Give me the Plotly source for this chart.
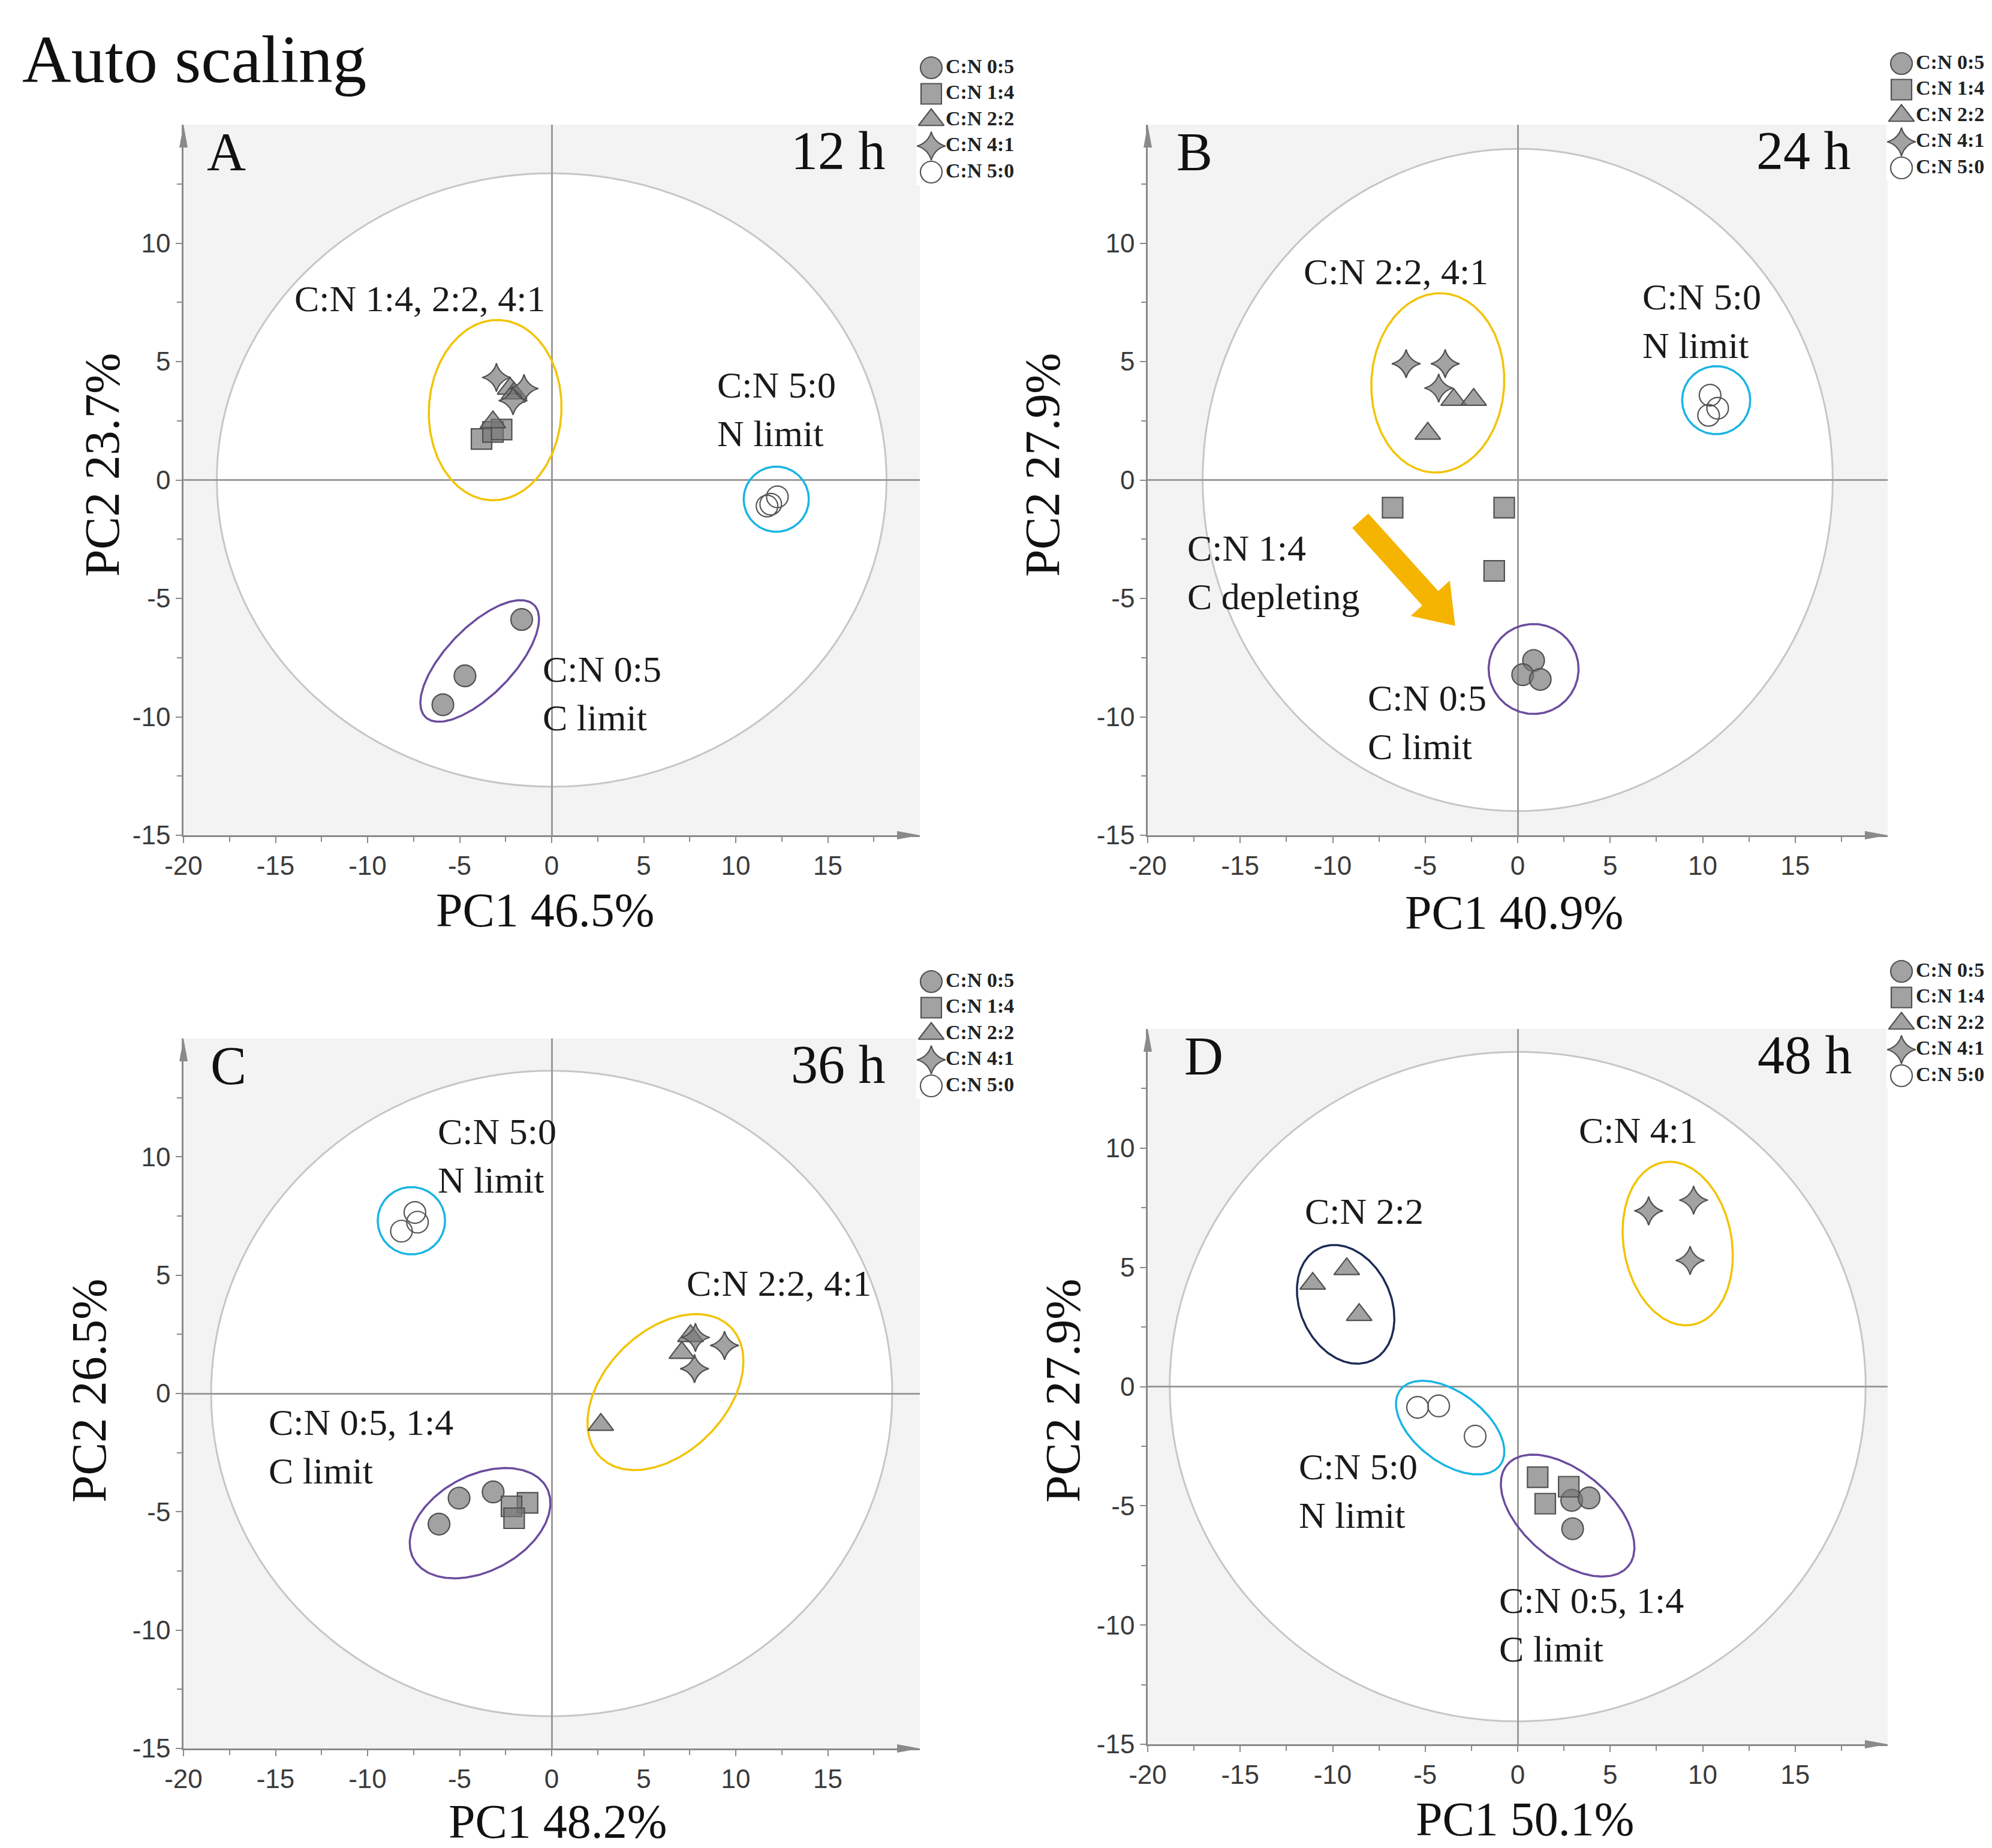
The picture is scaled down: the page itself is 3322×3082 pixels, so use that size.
import numpy as np
import plotly.graph_objects as go

W, H = 3322, 3082

# ---------------- data ----------------
categories = ["C:N 0:5", "C:N 1:4", "C:N 2:2", "C:N 4:1", "C:N 5:0"]
panel_letters = ["A", "B", "C", "D"]
time_labels = ["12 h", "24 h", "36 h", "48 h"]
pc1_titles = ["PC1 46.5%", "PC1 40.9%", "PC1 48.2%", "PC1 50.1%"]
pc2_titles = ["PC2 23.7%", "PC2 27.9%", "PC2 26.5%", "PC2 27.9%"]
x_tick_vals = [-20, -15, -10, -5, 0, 5, 10, 15]
y_tick_vals = [-15, -10, -5, 0, 5, 10]
x_minor_vals = [-17.5, -12.5, -7.5, -2.5, 2.5, 7.5, 12.5, 17.5]
y_minor_vals = [-12.5, -7.5, -2.5, 2.5, 7.5, 12.5]

sample_group = ["C:N 0:5", "C:N 0:5", "C:N 0:5",
                "C:N 1:4", "C:N 1:4", "C:N 1:4",
                "C:N 2:2", "C:N 2:2", "C:N 2:2",
                "C:N 4:1", "C:N 4:1", "C:N 4:1",
                "C:N 5:0", "C:N 5:0", "C:N 5:0"]

pc1_12h = [-1.63, -4.71, -5.91, -3.81, -3.19, -2.72, -3.19, -2.26, -2.04, -3.00, -1.50, -2.10, 12.26, 11.90, 11.70]
pc2_12h = [-5.89, -8.27, -9.49, 1.73, 2.03, 2.13, 2.44, 3.86, 3.66, 4.33, 3.86, 3.35, -0.71, -1.02, -1.10]

pc1_24h = [0.86, 0.27, 1.22, -6.76, -0.73, -1.27, -3.46, -2.38, -4.86, -6.03, -3.92, -4.27, 10.40, 10.81, 10.32]
pc2_24h = [-7.62, -8.22, -8.42, -1.17, -1.17, -3.84, 3.39, 3.39, 1.96, 4.91, 4.91, 3.88, 3.58, 3.03, 2.73]

pc1_36h = [-6.12, -5.03, -3.18, -1.31, -2.18, -2.04, 7.54, 7.07, 2.67, 7.81, 9.39, 7.76, -7.43, -7.29, -8.16]
pc2_36h = [-5.52, -4.42, -4.16, -4.62, -4.77, -5.27, 2.43, 1.72, -1.32, 2.37, 2.03, 1.05, 7.65, 7.24, 6.86]

pc1_48h = [2.92, 3.86, 2.97, 1.08, 2.76, 1.49, -11.08, -9.24, -8.57, 7.08, 9.51, 9.32, -5.41, -4.27, -2.30]
pc2_48h = [-4.77, -4.67, -5.96, -3.80, -4.20, -4.91, 4.32, 4.93, 3.01, 7.37, 7.82, 5.29, -0.87, -0.81, -2.08]

# Hotelling T2 ellipse semi-axes (PC1, PC2) per panel
t2_semi_pc1 = [18.19, 17.03, 18.50, 18.81]
t2_semi_pc2 = [12.95, 13.98, 13.64, 14.04]

panels_pc1 = [pc1_12h, pc1_24h, pc1_36h, pc1_48h]
panels_pc2 = [pc2_12h, pc2_24h, pc2_36h, pc2_48h]

# ---------------- styles / layout geometry ----------------
YEL, CYA, PUR, NAV = "#f2c300", "#19b4e3", "#6b4c9e", "#1d2b55"
SERIF = "Liberation Serif"
SANS = "Liberation Sans"
AXC = "#8a8a8a"

# plot areas in pixels (x0, x1, ytop, ybottom)
panel_px = [(298, 1526, 200, 1385), (1906, 3140, 200, 1385),
            (298, 1526, 1724, 2908), (1906, 3140, 1708, 2901)]
legend_px = [(1545, 105), (3163, 98), (1545, 1629), (3163, 1612)]
legend_step = 43.5
pc1_title_px = [(901, 1510), (2517, 1514), (922, 3030), (2535, 3026)]
pc2_title_px = [(162, 767), (1730, 767), (140, 2311), (1764, 2311)]

sym = {"C:N 0:5": "circle", "C:N 1:4": "square", "C:N 2:2": "triangle-up",
       "C:N 4:1": "star-diamond", "C:N 5:0": "circle-open"}
msize = {"C:N 0:5": 36, "C:N 1:4": 34, "C:N 2:2": 37, "C:N 4:1": 34, "C:N 5:0": 36}

# group ellipses (cx, cy, a, b, angle_deg, colour); a,b in PC1 units on screen
group_ellipses = [
    [(-3.07, 2.95, 4.9, 3.6, 87, YEL), (-3.91, -7.64, 4.24, 1.82, 46, PUR), (12.2, -0.81, 1.77, 1.77, 0, CYA)],
    [(-4.32, 4.10, 4.85, 3.59, 87, YEL), (10.73, 3.37, 1.84, 1.84, 0, CYA), (0.86, -7.98, 2.43, 2.43, 0, PUR)],
    [(-7.62, 7.30, 1.83, 1.83, 0, CYA), (6.18, 0.06, 5.0, 3.3, 45, YEL), (-3.89, -5.48, 4.1, 2.6, 28, PUR)],
    [(-9.30, 3.45, 3.35, 2.45, 115, NAV), (-3.65, -1.72, 3.38, 1.89, -37, CYA),
     (2.70, -5.41, 4.27, 2.38, -40, PUR), (8.65, 6.0, 4.46, 2.92, 100, YEL)],
]

# text labels (text, x, y, xanchor)
panel_notes = [
    [("C:N 1:4, 2:2, 4:1", -7.14, 7.66, "center"), ("C:N 5:0<br>N limit", 8.91, 3.0, "left"),
     ("C:N 0:5<br>C limit", -0.54, -9.0, "left")],
    [("C:N 2:2, 4:1", -6.57, 8.79, "center"), ("C:N 5:0<br>N limit", 6.68, 6.71, "left"),
     ("C:N 1:4<br>C depleting", -17.92, -3.91, "left"), ("C:N 0:5<br>C limit", -8.16, -10.23, "left")],
    [("C:N 5:0<br>N limit", -6.26, 10.04, "left"), ("C:N 2:2, 4:1", 7.27, 4.67, "left"),
     ("C:N 0:5, 1:4<br>C limit", -15.43, -2.23, "left")],
    [("C:N 4:1", 3.24, 10.75, "left"), ("C:N 2:2", -11.57, 7.35, "left"),
     ("C:N 5:0<br>N limit", -11.89, -4.38, "left"), ("C:N 0:5, 1:4<br>C limit", -1.08, -9.98, "left")],
]
letter_pos = [(-18.8, 13.85), (-18.5, 13.85), (-18.6, 13.85), (-18.1, 13.85)]
time_pos = [(18.2, 13.9), (18.1, 13.9), (18.2, 13.9), (18.16, 13.9)]

# orange arrow in panel B (tail, tip) in data units
arrow_tail = (-8.51, -1.72)
arrow_tip = (-3.38, -6.16)

fig = go.Figure()
shapes = []
annotations = []
layout = dict(width=W, height=H, margin=dict(l=0, r=0, t=0, b=0, autoexpand=False),
              paper_bgcolor="white", plot_bgcolor="white", showlegend=False)


def ellipse_xy(cx, cy, a, b, th, k):
    t = np.linspace(0, 2 * np.pi, 240)
    c, s = np.cos(np.radians(th)), np.sin(np.radians(th))
    x = cx + a * np.cos(t) * c - b * np.sin(t) * s
    y = cy + (a * np.cos(t) * s + b * np.sin(t) * c) / k
    return x, y


def marker_style(cat):
    if cat == "C:N 5:0":
        return dict(symbol=sym[cat], size=msize[cat], color="#555555", line=dict(width=2.2, color="#555555"))
    return dict(symbol=sym[cat], size=msize[cat], color="rgba(118,118,118,0.68)",
                line=dict(width=2.2, color="#505050"))


for i in range(4):
    n = "" if i == 0 else str(i + 1)
    xr, yr = "x" + n, "y" + n
    x0, x1, yt, yb = panel_px[i]
    px_x = (x1 - x0) / 40.0
    px_y = (yb - yt) / 30.0
    k = px_y / px_x

    common = dict(showline=True, linecolor=AXC, linewidth=2.5, ticks="outside", ticklen=10,
                  tickwidth=2, tickcolor=AXC, showgrid=False, zeroline=True,
                  zerolinecolor="#9a9a9a", zerolinewidth=2.5, automargin=False,
                  tickfont=dict(family=SANS, size=44, color="#3a3a3a"), fixedrange=True)
    layout["xaxis" + n] = dict(common, domain=[x0 / W, x1 / W], range=[-20, 20], anchor=yr,
                               tickmode="array", tickvals=x_tick_vals, ticktext=[str(v) for v in x_tick_vals],
                               minor=dict(tickmode="array", tickvals=x_minor_vals, ticks="outside",
                                          ticklen=8, tickwidth=2, tickcolor=AXC))
    layout["yaxis" + n] = dict(common, domain=[1 - yb / H, 1 - yt / H], range=[-15, 15], anchor=xr,
                               tickmode="array", tickvals=y_tick_vals, ticktext=[str(v) for v in y_tick_vals],
                               minor=dict(tickmode="array", tickvals=y_minor_vals, ticks="outside",
                                          ticklen=8, tickwidth=2, tickcolor=AXC))

    # grey plot background + white T2 ellipse
    shapes.append(dict(type="rect", xref="paper", yref="paper", x0=x0 / W, x1=x1 / W,
                       y0=1 - yb / H, y1=1 - yt / H, fillcolor="#f3f3f3", line=dict(width=0), layer="below"))
    shapes.append(dict(type="circle", xref=xr, yref=yr, x0=-t2_semi_pc1[i], x1=t2_semi_pc1[i],
                       y0=-t2_semi_pc2[i], y1=t2_semi_pc2[i], fillcolor="white",
                       line=dict(color="#c6c6c6", width=3), layer="below"))

    # axis arrowheads (paper coords)
    ax_x = x0 / W
    top_y = 1 - yt / H
    shapes.append(dict(type="path", xref="paper", yref="paper",
                       path=f"M {ax_x - 7 / W} {top_y - 38 / H} L {ax_x} {top_y} L {ax_x + 7 / W} {top_y - 38 / H} Z",
                       fillcolor=AXC, line=dict(width=0)))
    bx = x1 / W
    by = 1 - yb / H
    shapes.append(dict(type="path", xref="paper", yref="paper",
                       path=f"M {bx - 38 / W} {by + 7 / H} L {bx} {by} L {bx - 38 / W} {by - 7 / H} Z",
                       fillcolor=AXC, line=dict(width=0)))

    # group ellipses
    for (cx, cy, a, b, th, col) in group_ellipses[i]:
        ex, ey = ellipse_xy(cx, cy, a, b, th, k)
        fig.add_trace(go.Scatter(x=ex, y=ey, mode="lines", line=dict(color=col, width=3.5),
                                 xaxis=xr, yaxis=yr, hoverinfo="skip"))

    # samples
    pcx, pcy = panels_pc1[i], panels_pc2[i]
    for cat in ["C:N 5:0", "C:N 0:5", "C:N 1:4", "C:N 2:2", "C:N 4:1"]:
        xs = [pcx[j] for j in range(len(pcx)) if sample_group[j] == cat]
        ys = [pcy[j] for j in range(len(pcy)) if sample_group[j] == cat]
        fig.add_trace(go.Scatter(x=xs, y=ys, mode="markers", marker=marker_style(cat),
                                 xaxis=xr, yaxis=yr, name=cat))

    # orange arrow in panel B
    if i == 1:
        tx, ty = arrow_tail[0] * px_x, arrow_tail[1] * px_y
        hx, hy = arrow_tip[0] * px_x, arrow_tip[1] * px_y
        L = np.hypot(hx - tx, hy - ty)
        dx, dy = (hx - tx) / L, (hy - ty) / L
        pxp, pyp = -dy, dx
        sw, hw, hl = 36, 88, 62
        bxp, byp = hx - hl * dx, hy - hl * dy
        pts = [(tx + pxp * sw / 2, ty + pyp * sw / 2), (bxp + pxp * sw / 2, byp + pyp * sw / 2),
               (bxp + pxp * hw / 2, byp + pyp * hw / 2), (hx, hy),
               (bxp - pxp * hw / 2, byp - pyp * hw / 2), (bxp - pxp * sw / 2, byp - pyp * sw / 2),
               (tx - pxp * sw / 2, ty - pyp * sw / 2)]
        path = "M " + " L ".join(f"{p[0] / px_x} {p[1] / px_y}" for p in pts) + " Z"
        shapes.append(dict(type="path", xref=xr, yref=yr, path=path, fillcolor="#f5b400",
                           line=dict(width=0)))

    # notes
    for (txt, tx_, ty_, xa) in panel_notes[i]:
        annotations.append(dict(text=txt, x=tx_, y=ty_, xref=xr, yref=yr, xanchor=xa, yanchor="middle",
                                align="left", showarrow=False,
                                font=dict(family=SERIF, size=62, color="#1a1a1a")))
    annotations.append(dict(text=panel_letters[i], x=letter_pos[i][0], y=letter_pos[i][1], xref=xr, yref=yr,
                            xanchor="left", yanchor="middle", showarrow=False,
                            font=dict(family=SERIF, size=90, color="#111")))
    annotations.append(dict(text=time_labels[i], x=time_pos[i][0], y=time_pos[i][1], xref=xr, yref=yr,
                            xanchor="right", yanchor="middle", showarrow=False,
                            font=dict(family=SERIF, size=90, color="#111")))
    # axis titles
    annotations.append(dict(text=pc1_titles[i], x=pc1_title_px[i][0] / W, y=1 - pc1_title_px[i][1] / H,
                            xref="paper", yref="paper", xanchor="center", yanchor="middle", showarrow=False,
                            font=dict(family=SERIF, size=80, color="#111")))
    annotations.append(dict(text=pc2_titles[i], x=pc2_title_px[i][0] / W, y=1 - pc2_title_px[i][1] / H,
                            xref="paper", yref="paper", xanchor="center", yanchor="middle", showarrow=False,
                            textangle=-90, font=dict(family=SERIF, size=82, color="#111")))

    # per-panel legend on its own hidden axes
    m = str(i + 5)
    lx, ly = legend_px[i]
    layout["xaxis" + m] = dict(domain=[(lx - 25) / W, (lx + 150) / W], range=[-25, 150], visible=False,
                               anchor="y" + m, fixedrange=True, automargin=False)
    layout["yaxis" + m] = dict(domain=[1 - (ly + 4 * legend_step + legend_step / 2) / H,
                                       1 - (ly - legend_step / 2) / H],
                               range=[4.5, -0.5], visible=False, anchor="x" + m, fixedrange=True,
                               automargin=False)
    for idx, cat in enumerate(categories):
        fig.add_trace(go.Scatter(x=[0], y=[idx], mode="markers", marker=marker_style(cat),
                                 xaxis="x" + m, yaxis="y" + m, cliponaxis=False, hoverinfo="skip"))
    fig.add_trace(go.Scatter(x=[24] * len(categories), y=list(range(len(categories))), mode="text",
                             text=categories, textposition="middle right",
                             textfont=dict(family=SERIF, size=34, color="#222", weight="bold"),
                             xaxis="x" + m, yaxis="y" + m, cliponaxis=False, hoverinfo="skip"))

annotations.append(dict(text="Auto scaling", x=27 / W, y=1 - 90 / H, xref="paper", yref="paper",
                        xanchor="left", yanchor="middle", showarrow=False,
                        font=dict(family=SERIF, size=113, color="#111")))

layout["shapes"] = shapes
layout["annotations"] = annotations
fig.update_layout(**layout)
fig.write_html("out.html")
